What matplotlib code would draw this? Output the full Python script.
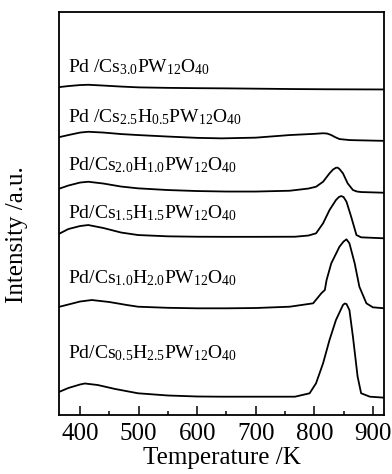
import matplotlib
matplotlib.use("Agg")
import matplotlib.pyplot as plt
from matplotlib.ticker import MultipleLocator

plt.rcParams['font.family'] = ['Liberation Serif', 'DejaVu Serif']
plt.rcParams['mathtext.fontset'] = 'custom'
plt.rcParams['mathtext.rm'] = 'Liberation Serif'
plt.rcParams['mathtext.it'] = 'Liberation Serif:italic'
plt.rcParams['mathtext.default'] = 'rm'

# stacked TPD traces (already offset)
t_cs30 = [365, 380, 400, 414, 440, 470, 500, 550, 600, 650, 700, 767, 820, 870, 920]
y_cs30 = [387, 388, 389, 389.3, 388.5, 387.5, 386.7, 386.2, 385.9, 385.7, 385.4, 385, 384.8, 384.7, 384.6]

t_cs25 = [365, 380, 400, 414, 440, 470, 499, 550, 600, 642, 700, 758, 800, 815, 822, 829, 836,
          843, 860, 872, 920]
y_cs25 = [337, 339, 341.5, 342.3, 341.5, 340, 339, 337.5, 336.2, 335.7, 336.4, 339, 340.2, 340.8,
          340.5, 339, 336.8, 335, 334, 333.8, 333.2]

t_cs20 = [365, 380, 400, 414, 440, 470, 499, 550, 600, 650, 700, 758, 790, 803, 815, 826, 832,
          837, 840, 843, 849, 857, 866, 873, 880, 920]
y_cs20 = [285.5, 288.5, 291.5, 292.3, 290.5, 287.5, 285.7, 284, 283, 282.5, 282.5, 283.3, 285.5,
          287.3, 292.3, 300.7, 304.5, 306.3, 306.4, 305, 300.7, 290.7, 284, 282.5, 282, 281.3]

t_cs15 = [365, 380, 400, 414, 440, 470, 499, 550, 600, 650, 700, 767, 790, 803, 815, 826, 837,
          842, 846, 850, 855, 863, 872, 880, 920]
y_cs15 = [240.5, 245, 248, 249, 246, 241.5, 239, 237.7, 237.3, 237.2, 237.2, 237.3, 238.5, 240.7,
          250.7, 264, 274, 277, 278, 277, 272.3, 257.3, 239, 236.7, 235.7]

t_cs10 = [365, 380, 400, 420, 450, 480, 499, 550, 600, 650, 700, 758, 798, 812, 818, 821, 829,
          843, 850, 855, 860, 869, 877, 889, 900, 920]
y_cs10 = [167.3, 169.5, 172.5, 174, 172, 169, 167.3, 166.2, 165.7, 165.7, 166, 167.3, 170.7,
          180.7, 184, 194, 210.7, 227.3, 232.5, 234.7, 230.7, 210.7, 187.3, 170.7, 166.7, 165.7]

t_cs05 = [365, 380, 400, 408, 430, 460, 499, 550, 600, 642, 700, 767, 792, 803, 815, 826, 837,
          849, 852, 855, 860, 866, 874, 880, 895, 920]
y_cs05 = [82.3, 86, 89.5, 90.5, 89, 85, 80.7, 78.5, 77.5, 77.3, 77.3, 77.3, 80.7, 90.7, 110.7,
          134, 154, 169, 170.5, 170, 164, 137.3, 97.3, 80.7, 77.3, 76.3]

labels = [
    'Pd /Cs$_{3.0}$PW$_{12}$O$_{40}$',
    'Pd /Cs$_{2.5}$H$_{0.5}$PW$_{12}$O$_{40}$',
    'Pd/Cs$_{2.0}$H$_{1.0}$PW$_{12}$O$_{40}$',
    'Pd/Cs$_{1.5}$H$_{1.5}$PW$_{12}$O$_{40}$',
    'Pd/Cs$_{1.0}$H$_{2.0}$PW$_{12}$O$_{40}$',
    'Pd/Cs$_{0.5}$H$_{2.5}$PW$_{12}$O$_{40}$',
]
label_y = [402, 352, 304, 256, 191, 116]

curves = [(t_cs30, y_cs30), (t_cs25, y_cs25), (t_cs20, y_cs20),
          (t_cs15, y_cs15), (t_cs10, y_cs10), (t_cs05, y_cs05)]

fig = plt.figure(figsize=(3.92, 4.74), dpi=100)
ax = fig.add_axes([0.1505, 0.1245, 0.829, 0.850])

for (t, y), lab, ly in zip(curves, labels, label_y):
    ax.plot(t, y, color='black', lw=1.3)
    ax.text(379.5, ly, lab, fontsize=14, va='baseline', ha='left')

ax.set_xlim(364, 919)
ax.set_ylim(59, 462)
ax.set_yticks([])
ax.xaxis.set_major_locator(MultipleLocator(100))
ax.xaxis.set_minor_locator(MultipleLocator(50))
ax.tick_params(axis='x', which='major', direction='in', length=6.5, width=1.1, labelsize=18, pad=6)
ax.tick_params(axis='x', which='minor', direction='in', length=3, width=1.1)
for sp in ax.spines.values():
    sp.set_linewidth(1.3)

ax.set_xlabel('Temperature /K', fontsize=18, labelpad=1)
ax.set_ylabel('Intensity /a.u.', fontsize=18)
ax.yaxis.set_label_coords(-0.095, 0.447)

fig.savefig('out.png', dpi=100)
